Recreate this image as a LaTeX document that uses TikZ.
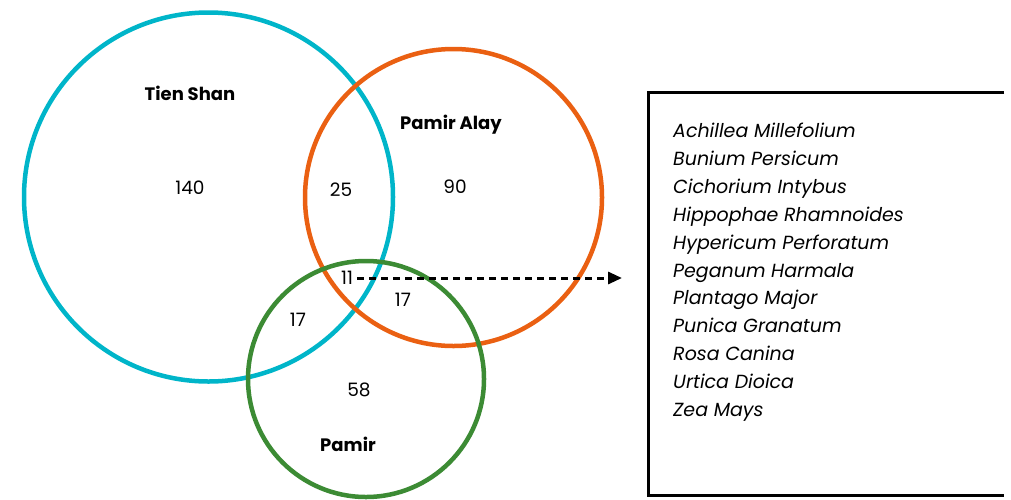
\documentclass[tikz,border=0pt]{standalone}
\usepackage{fontspec}
\setmainfont{Poppins}
\usepackage{tikz}
\usetikzlibrary{arrows.meta}

\definecolor{tiencol}{RGB}{0,181,201}
\definecolor{alaycol}{RGB}{234,96,18}
\definecolor{pamircol}{RGB}{60,139,52}

\tikzset{
    region/.style={circle, line width=4.5pt, inner sep=0pt},
    count/.style={font=\fontsize{18.5}{20}\selectfont},
    title/.style={font=\fontsize{18}{20}\selectfont\bfseries},
    species/.style={anchor=base west, inner sep=0pt, font=\fontsize{19}{21}\selectfont\itshape}
}

\begin{document}
\begin{tikzpicture}[x=1pt,y=-1pt]
    \useasboundingbox (0,0) rectangle (1011,499);

    % the three ranges
    \node[region, draw=tiencol, minimum size=369pt] (tien) at (208.5,197) {};
    \node[region, draw=alaycol, minimum size=297pt] (alay) at (453.5,197.5) {};
    \node[region, draw=pamircol, minimum size=236pt] (pamir) at (366,379) {};

    \node[title] (tienname) at (190,93) {Tien Shan};
    \node[title] (alayname) at (451,125) {Pamir Alay};
    \node[title] (pamirname) at (348,444) {Pamir};

    \node[count] (ts) at (190,188) {140};
    \node[count] (tspa) at (341,190) {25};
    \node[count] (pa) at (455,187) {90};
    \node[count, inner sep=4pt] (all) at (347,278) {11};
    \node[count] (papm) at (403,300) {17};
    \node[count] (tspm) at (298,320) {17};
    \node[count] (pm) at (359,390) {58};

    % list of the shared species
    \coordinate (listin) at (622,278);
    \draw[line width=3pt, dash pattern=on 7pt off 5pt,
          -{Triangle[length=14pt,width=12pt]}] (all.east) -- (listin);

    \draw[line width=3pt] (1004,92) -| (648,495) -- (1004,495);

    \foreach \name [count=\i from 0] in {Achillea Millefolium, Bunium Persicum,
            Cichorium Intybus, Hippophae Rhamnoides, Hypericum Perforatum,
            Peganum Harmala, Plantago Major, Punica Granatum, Rosa Canina,
            Urtica Dioica, Zea Mays}
        \node[species] (sp\i) at (673,137.5+27.9*\i) {\name};
\end{tikzpicture}
\end{document}
